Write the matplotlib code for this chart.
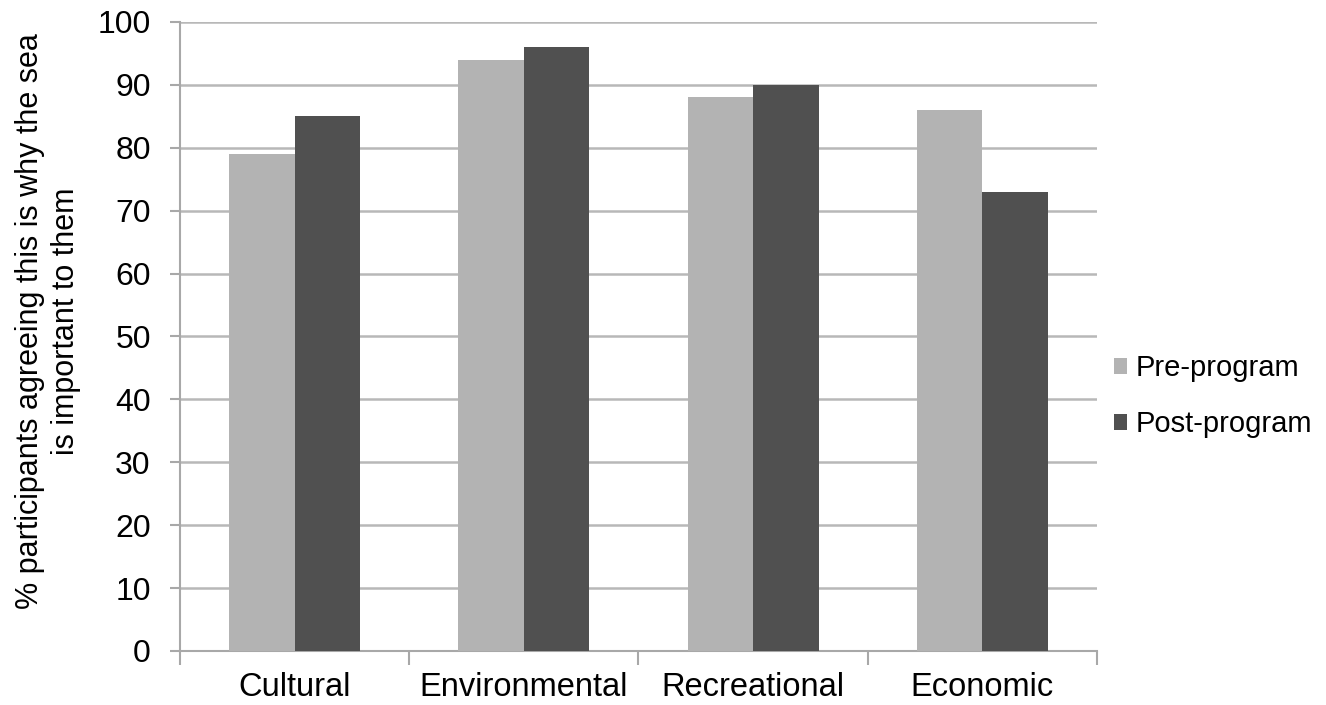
import numpy as np
from matplotlib import pyplot as plt

# Data
categories = ['Cultural', 'Environmental', 'Recreational', 'Economic']
pre_program = [79, 94, 88, 86]
post_program = [85, 96, 90, 73]
y_ticks = list(range(0, 101, 10))

plt.rcParams['font.family'] = ['Liberation Sans', 'DejaVu Sans']

fig = plt.figure(figsize=(13.26, 7.05), dpi=100)
ax = fig.add_axes([0.1357, 0.0766, 0.6916, 0.8922])

x = np.arange(len(categories))
width = 0.286
ax.bar(x - width / 2, pre_program, width, color='#b3b3b3', label='Pre-program', zorder=3)
ax.bar(x + width / 2, post_program, width, color='#505050', label='Post-program', zorder=3)

ax.set_xlim(-0.5, len(categories) - 0.5)
ax.set_ylim(0, 100)
ax.set_yticks(y_ticks)
ax.tick_params(axis='y', labelsize=23, length=7, color='#a8a8a8', width=1.5, pad=14)
ax.yaxis.grid(True, color='#b8b8b8', linewidth=1.8, zorder=0)

# category labels centred, tick marks between the groups
ax.set_xticks(x)
ax.set_xticklabels(categories, fontsize=23.5)
ax.tick_params(axis='x', length=0, pad=15)
ax.set_xticks(np.arange(-0.5, len(categories)), minor=True)
ax.tick_params(axis='x', which='minor', length=10, color='#a8a8a8', width=1.5)

for side in ['top', 'right']:
    ax.spines[side].set_visible(False)
for side in ['left', 'bottom']:
    ax.spines[side].set_color('#a8a8a8')
    ax.spines[side].set_linewidth(1.5)

ax.set_ylabel('% participants agreeing this is why the sea\nis important to them', fontsize=22,
              linespacing=1.25)
ax.yaxis.set_label_coords(-0.108, 0.525)

ax.legend(loc='center left', bbox_to_anchor=(0.99, 0.405), frameon=False, fontsize=21,
          handlelength=0.45, handleheight=0.45, handletextpad=0.3, labelspacing=0.95)

plt.savefig('out.png', dpi=100)
